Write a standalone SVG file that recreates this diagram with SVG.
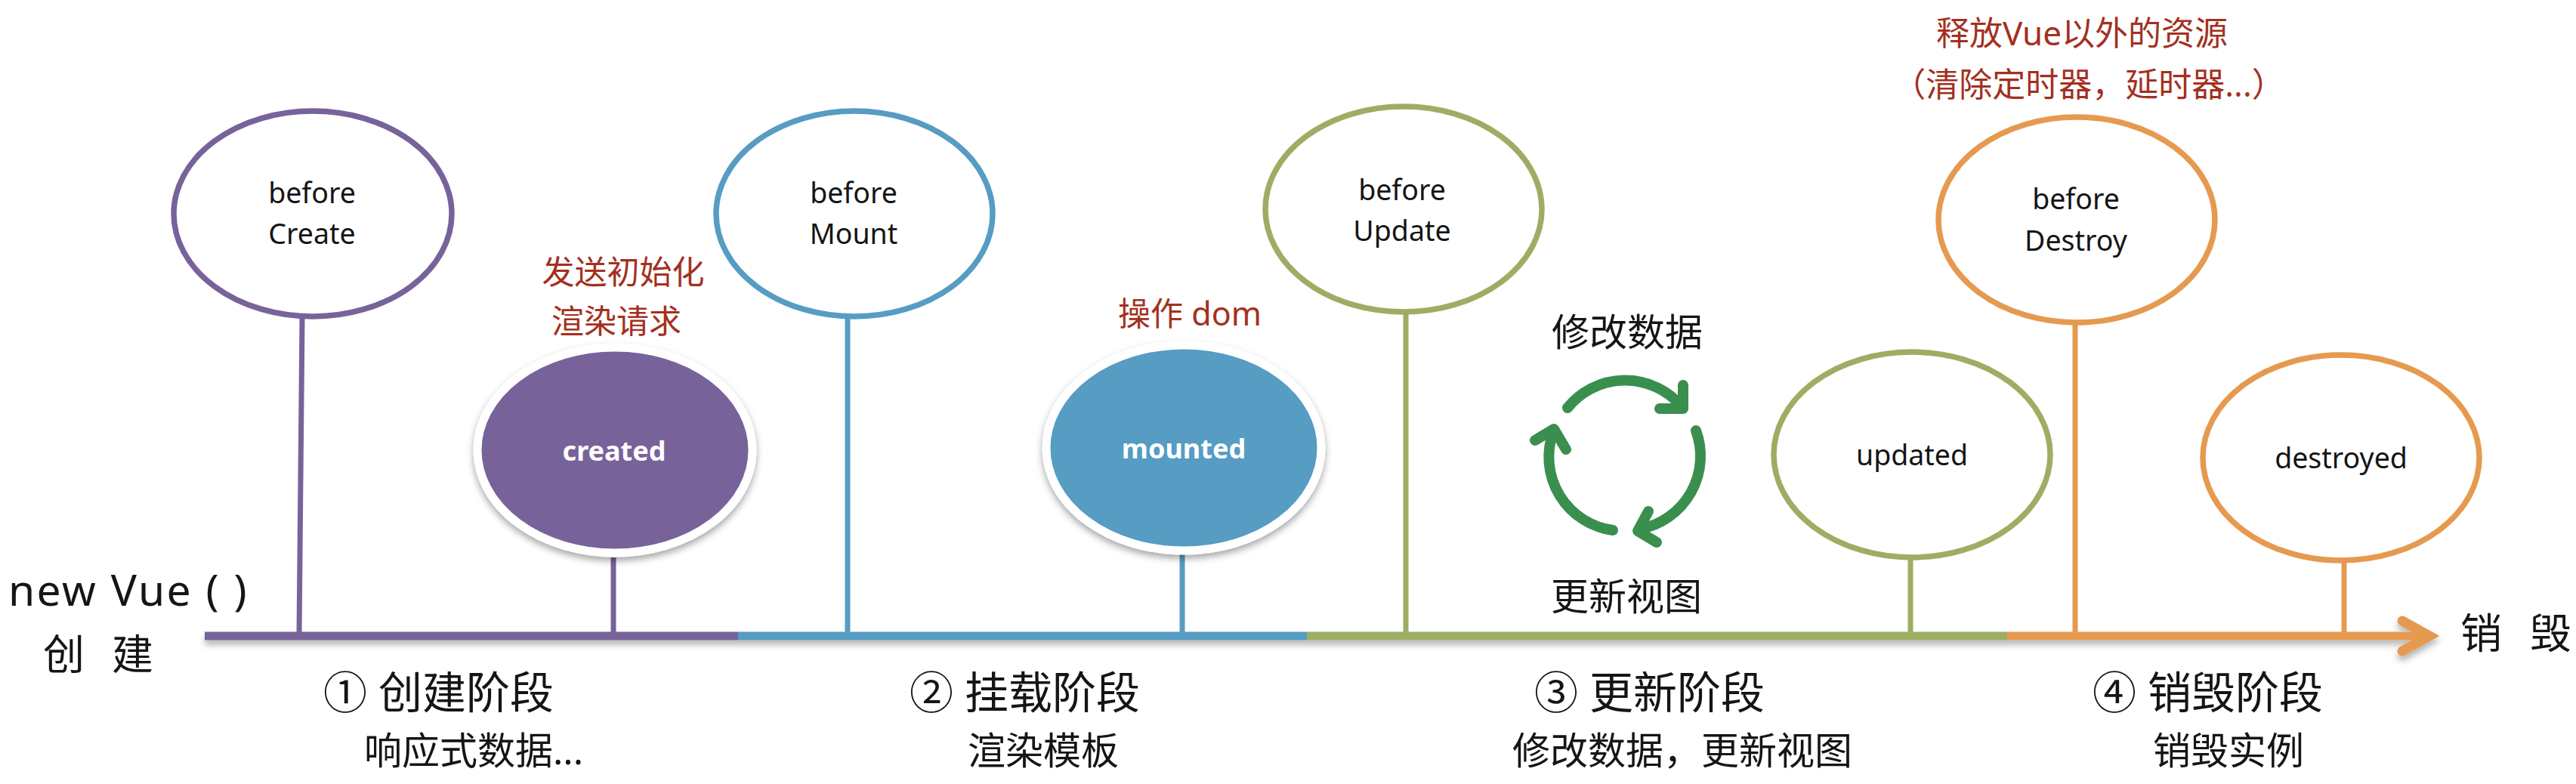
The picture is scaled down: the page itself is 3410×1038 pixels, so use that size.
<svg xmlns="http://www.w3.org/2000/svg" width="3410" height="1038" viewBox="0 0 3410 1038">
<style>
text{font-family:"Noto Sans","Noto Sans CJK SC",sans-serif;fill:#151515;text-anchor:middle}
.hook{font-size:37.5px}
.bold{font-size:36px;font-weight:700;fill:#fff}
.note{font-size:43px;fill:#a3301f}
.top{font-size:44px;fill:#a3301f}
.cyc{font-size:50px}
.phase{font-size:58px;text-anchor:start}
.sub{font-size:50px}
.end{font-size:55px;text-anchor:start}
.o{fill:#fff;stroke-width:7.5}
.f{stroke:#fff;stroke-width:11;filter:url(#soft)}
.p{stroke:#77639a}.b{stroke:#569cc3}.g{stroke:#9dae64}.r{stroke:#e59a50}
.st{stroke-width:7;fill:none}
.ax{stroke-width:11;fill:none}
.loop{fill:none;stroke:#3a8f4f;stroke-width:14;stroke-linecap:round;stroke-linejoin:round}
</style>
<defs>
<filter id="soft" x="-20%" y="-20%" width="140%" height="140%"><feDropShadow dx="0" dy="5" stdDeviation="5" flood-color="#000" flood-opacity=".35"/></filter>
<filter id="axisShadow" filterUnits="userSpaceOnUse" x="240" y="790" width="3020" height="100"><feDropShadow dx="0" dy="6" stdDeviation="4" flood-color="#000" flood-opacity=".3"/></filter>
<marker id="head" markerUnits="userSpaceOnUse" markerWidth="70" markerHeight="70" refX="48" refY="35" orient="auto"><path d="M12 15L48 35L12 55" fill="none" stroke="#e59a50" stroke-width="13" stroke-linejoin="miter" stroke-linecap="round"/></marker>
</defs>
<rect width="3410" height="1038" fill="#fff"/>
<g id="connectors">
<g id="axis" filter="url(#axisShadow)">
<line class="ax p" x1="271" y1="842" x2="977" y2="842"/>
<line class="ax b" x1="977" y1="842" x2="1730" y2="842"/>
<line class="ax g" x1="1730" y1="842" x2="2657" y2="842"/>
<line class="ax r" x1="2657" y1="842" x2="3216" y2="842" marker-end="url(#head)"/>
</g>
<line class="st p" x1="400" y1="420" x2="396" y2="840"/>
<line class="st p" x1="812" y1="738" x2="812" y2="840"/>
<line class="st b" x1="1122" y1="420" x2="1122" y2="840"/>
<line class="st b" x1="1565" y1="734" x2="1565" y2="840"/>
<line class="st g" x1="1861" y1="415" x2="1861" y2="840"/>
<line class="st g" x1="2529" y1="740" x2="2529" y2="840"/>
<line class="st r" x1="2747" y1="428" x2="2747" y2="840"/>
<line class="st r" x1="3103" y1="743" x2="3103" y2="840"/>
</g>
<g id="beforeCreate"><ellipse class="o p" cx="414" cy="283" rx="184" ry="136"/><text class="hook" x="413" y="269">before</text><text class="hook" x="413" y="323">Create</text></g>
<g id="created"><ellipse class="f" cx="814" cy="596" rx="182" ry="136" fill="#77639a"/><text class="bold" x="813" y="610">created</text></g>
<g id="createdNote"><text class="note" x="825" y="376">发送初始化</text><text class="note" x="816" y="441">渲染请求</text></g>
<g id="beforeMount"><ellipse class="o b" cx="1131" cy="283" rx="183" ry="136"/><text class="hook" x="1130" y="269">before</text><text class="hook" x="1130" y="323">Mount</text></g>
<g id="mounted"><ellipse class="f" cx="1567" cy="593" rx="182" ry="136" fill="#569cc3"/><text class="bold" x="1567" y="607">mounted</text></g>
<g id="mountedNote"><text class="note" x="1575" y="431">操作 dom</text></g>
<g id="beforeUpdate"><ellipse class="o g" cx="1858" cy="277" rx="183" ry="136"/><text class="hook" x="1856" y="265">before</text><text class="hook" x="1856" y="319">Update</text></g>
<g id="updateCycle">
<text class="cyc" x="2154" y="458">修改数据</text>
<path class="loop" d="M2075 540A98 98 0 0 1 2225 537"/><path class="loop" d="M2228 510V541H2197"/>
<path class="loop" d="M2245 570A98 98 0 0 1 2172 700"/><path class="loop" d="M2182 677L2168 703L2193 718"/>
<path class="loop" d="M2135 702A98 98 0 0 1 2056 572"/><path class="loop" d="M2032 583L2057 568L2073 595"/>
<text class="cyc" x="2153" y="808">更新视图</text>
</g>
<g id="updated"><ellipse class="o g" cx="2531" cy="602" rx="183" ry="136"/><text class="hook" x="2531" y="616">updated</text></g>
<g id="beforeDestroy"><ellipse class="o r" cx="2749" cy="291" rx="183" ry="136"/><text class="hook" x="2748" y="277">before</text><text class="hook" x="2748" y="332">Destroy</text></g>
<g id="destroyNote"><text class="top" x="2756" y="60">释放Vue以外的资源</text><text class="top" x="2765" y="128">（清除定时器，延时器...）</text></g>
<g id="destroyed"><ellipse class="o r" cx="3099" cy="606" rx="183" ry="136"/><text class="hook" x="3099" y="620">destroyed</text></g>
<g id="start"><text x="170" y="802" style="font-size:57px;letter-spacing:2.5px">new Vue ( )</text><text class="end" x="57" y="886">创</text><text class="end" x="148" y="886">建</text></g>
<g id="finish"><text class="end" x="3257" y="858">销</text><text class="end" x="3349" y="858">毁</text></g>
<g id="phase1"><text class="phase" x="428" y="938">① 创建阶段</text><text class="sub" x="627" y="1012">响应式数据...</text></g>
<g id="phase2"><text class="phase" x="1204" y="938">② 挂载阶段</text><text class="sub" x="1381" y="1012">渲染模板</text></g>
<g id="phase3"><text class="phase" x="2031" y="938">③ 更新阶段</text><text class="sub" x="2227" y="1012">修改数据，更新视图</text></g>
<g id="phase4"><text class="phase" x="2770" y="938">④ 销毁阶段</text><text class="sub" x="2950" y="1012">销毁实例</text></g>
</svg>
